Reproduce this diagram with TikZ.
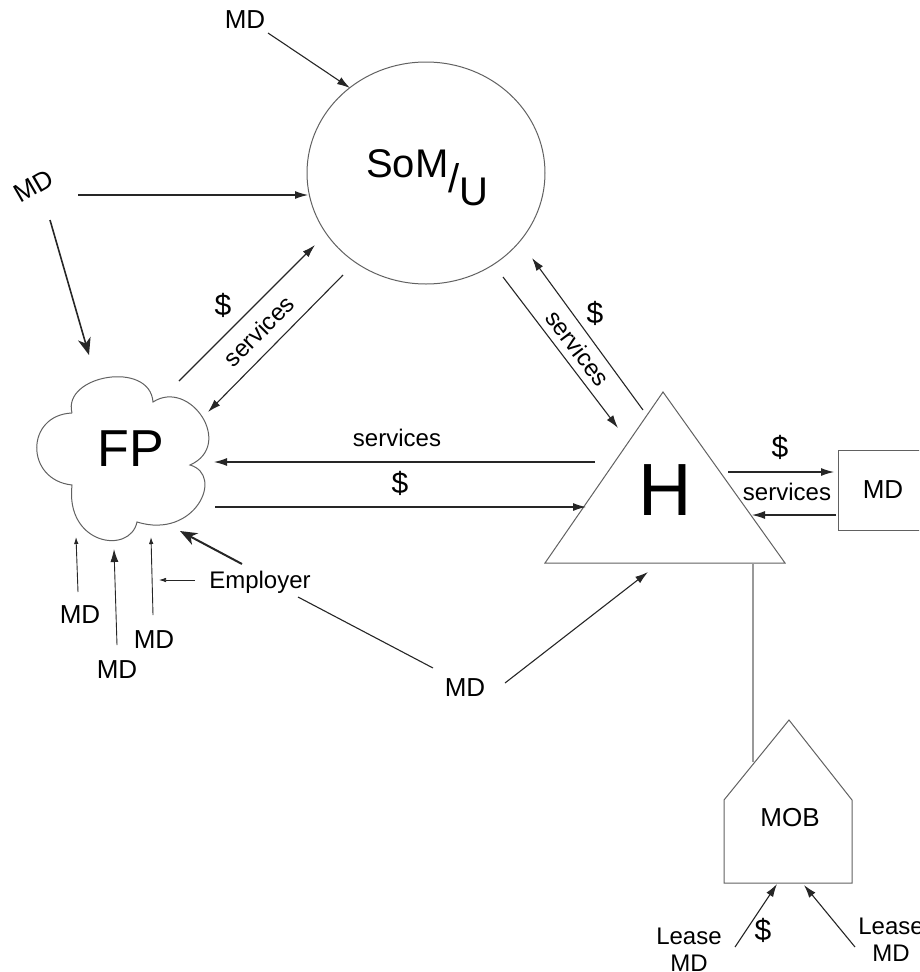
\documentclass[tikz,border=0pt]{standalone}
\usepackage{fontspec}
\setmainfont{Liberation Sans}
\usetikzlibrary{arrows.meta,shapes.geometric}
\begin{document}
\begin{tikzpicture}[x=1pt,y=-1pt,
  lbl/.style={font=\fontsize{24}{26}\selectfont, inner sep=0pt},
  mdl/.style={font=\fontsize{26}{28}\selectfont, inner sep=0pt},
  dol/.style={font=\fontsize{30}{30}\selectfont, inner sep=0pt},
  con/.style={line width=1.1pt, draw=black!85},
  tip/.style={-{Latex[length=13pt,width=8pt]}},
  smalltip/.style={-{Latex[length=7pt,width=4.5pt]}},
  bigtip/.style={line width=2pt,-{Stealth[length=17pt,width=13pt,inset=5pt]}},
  shapeline/.style={draw=black!62, line width=1pt}]
\useasboundingbox (0,0) rectangle (919,972);
\clip (0,0) rectangle (919,972);

% ---------- SoM/U ----------
\node[ellipse, shapeline, minimum width=238pt, minimum height=222pt, inner sep=0pt] (SoM) at (426,173) {};
\node[anchor=base west, font=\fontsize{40}{40}\selectfont, inner sep=0pt] (SoMtext) at (366,177) {SoM\raisebox{-15pt}{/}\raisebox{-28pt}{U}};

% ---------- FP cloud ----------
\draw[shapeline] (72,413) .. controls (62,375) and (150,360) .. (153,402)
  .. controls (190,378) and (235,445) .. (190,465)
  .. controls (225,475) and (195,540) .. (137,522)
  .. controls (130,555) and (65,545) .. (72,485)
  .. controls (25,480) and (25,415) .. (72,413);
\node[font=\fontsize{52}{52}\selectfont, inner sep=0pt] (FP) at (131,449) {FP};

% ---------- H triangle ----------
\coordinate (Htop) at (663,392);
\coordinate (Hl) at (545,563);
\coordinate (Hr) at (785,563);
\draw[shapeline] (Htop) -- (Hl) -- (Hr) -- cycle;
\node[font=\fontsize{74}{74}\selectfont, inner sep=0pt] (H) at (665,490) {H};

% ---------- MD box ----------
\node[shapeline, draw, minimum width=90pt, minimum height=80pt, inner sep=0pt, font=\fontsize{26}{28}\selectfont] (MDbox) at (883,490) {MD};

% ---------- MOB ----------
\coordinate (Mpk) at (789,720);
\coordinate (Mle) at (724,800);
\coordinate (Mre) at (852,800);
\coordinate (Mlb) at (724,883);
\coordinate (Mrb) at (852,883);
\draw[shapeline] (Mpk) -- (Mre) -- (Mrb) -- (Mlb) -- (Mle) -- cycle;
\node[mdl] (MOB) at (790,818) {MOB};

% ---------- top MD -> SoM ----------
\node[mdl] (mdTop) at (245,20) {MD};
\coordinate (a1s) at (268,33); \coordinate (a1e) at (350,88);
\draw[con,tip] (a1s) -- (a1e);

% ---------- left MD ----------
\node[mdl, rotate=30] (mdLeft) at (34,186) {MD};
\coordinate (a2s) at (78,195); \coordinate (a2e) at (308,195);
\draw[con,tip] (a2s) -- (a2e);
\coordinate (a3s) at (50,220); \coordinate (a3e) at (89,355);
\draw[con,bigtip,line width=1.6pt] (a3s) -- (a3e);

% ---------- FP <-> SoM ----------
\coordinate (b1s) at (179,381); \coordinate (b1e) at (315,245);
\draw[con,tip] (b1s) -- (b1e);
\coordinate (b2s) at (343,275); \coordinate (b2e) at (208,412);
\draw[con,tip] (b2s) -- (b2e);
\node[dol] (bDollar) at (223,305) {\$};
\node[lbl, rotate=45] (bServ) at (259,331) {services};

% ---------- SoM <-> H ----------
\coordinate (c1s) at (643,410); \coordinate (c1e) at (532,258);
\draw[con,tip] (c1s) -- (c1e);
\coordinate (c2s) at (503,277); \coordinate (c2e) at (618,428);
\draw[con,tip] (c2s) -- (c2e);
\node[dol] (cDollar) at (595,313) {\$};
\node[lbl, rotate=-53] (cServ) at (578,348) {services};

% ---------- H <-> FP ----------
\coordinate (d1s) at (595,462); \coordinate (d1e) at (214,462);
\draw[con,tip] (d1s) -- (d1e);
\node[lbl] (dServ) at (397,438) {services};
\coordinate (d2s) at (215,507); \coordinate (d2e) at (586,507);
\draw[con,tip] (d2s) -- (d2e);
\node[dol] (dDollar) at (400,483) {\$};

% ---------- H <-> MD box ----------
\coordinate (e1s) at (728,472); \coordinate (e1e) at (834,472);
\draw[con,tip] (e1s) -- (e1e);
\node[dol] (eDollar) at (780,447) {\$};
\coordinate (e2s) at (836,515); \coordinate (e2e) at (752,515);
\draw[con,tip] (e2s) -- (e2e);
\node[lbl] (eServ) at (787,492) {services};

% ---------- H -- MOB ----------
\coordinate (f1s) at (753,563); \coordinate (f1e) at (753,762);
\draw[draw=black!40, line width=2pt] (f1s) -- (f1e);

% ---------- Lease arrows ----------
\coordinate (g1s) at (735,947); \coordinate (g1e) at (777,884);
\draw[con,tip] (g1s) -- (g1e);
\coordinate (g2s) at (855,947); \coordinate (g2e) at (804,885);
\draw[con,tip] (g2s) -- (g2e);
\node[lbl, align=center, font=\fontsize{24}{27}\selectfont] (leaseL) at (689,950) {Lease\\MD};
\node[dol] (gDollar) at (763,930) {\$};
\node[lbl, align=center, font=\fontsize{24}{27}\selectfont] (leaseR) at (891,940) {Lease\\MD};

% ---------- MDs below FP ----------
\coordinate (h1s) at (78,592); \coordinate (h1e) at (76,537);
\draw[con,smalltip,line width=0.9pt] (h1s) -- (h1e);
\node[mdl] (md1) at (80,615) {MD};
\coordinate (h2s) at (117,645); \coordinate (h2e) at (114,549);
\draw[con,tip,line width=0.9pt] (h2s) -- (h2e);
\node[mdl] (md2) at (117,670) {MD};
\coordinate (h3s) at (153,615); \coordinate (h3e) at (151,537);
\draw[con,smalltip,line width=0.9pt] (h3s) -- (h3e);
\node[mdl] (md3) at (154,640) {MD};

% ---------- Employer ----------
\node[lbl] (emp) at (260,582) {Employer};
\coordinate (i1s) at (195,580); \coordinate (i1e) at (159,580);
\draw[con,smalltip,line width=0.7pt] (i1s) -- (i1e);
\coordinate (i2s) at (242,564); \coordinate (i2e) at (180,531);
\draw[con,bigtip] (i2s) -- (i2e);

% ---------- bottom MD ----------
\node[mdl] (mdBot) at (465,688) {MD};
\coordinate (j1s) at (433,668); \coordinate (j1e) at (298,597);
\draw[con] (j1s) -- (j1e);
\coordinate (j2s) at (505,683); \coordinate (j2e) at (648,572);
\draw[con,tip] (j2s) -- (j2e);
\end{tikzpicture}
\end{document}
